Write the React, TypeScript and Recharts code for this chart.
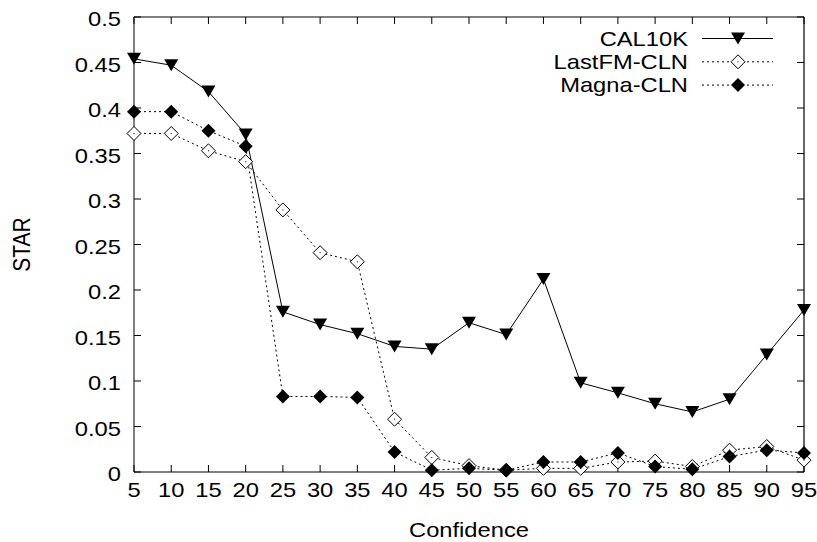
import React from 'react';
import { LineChart, Line, XAxis, YAxis, ReferenceLine } from 'recharts';

const confidence = [5, 10, 15, 20, 25, 30, 35, 40, 45, 50, 55, 60, 65, 70, 75, 80, 85, 90, 95];
const cal10k = [0.454, 0.447, 0.418, 0.371, 0.176, 0.162, 0.152, 0.138, 0.135, 0.164, 0.151, 0.212, 0.098, 0.087, 0.075, 0.066, 0.08, 0.129, 0.178];
const lastfm = [0.372, 0.372, 0.353, 0.341, 0.288, 0.241, 0.231, 0.058, 0.016, 0.007, 0.002, 0.004, 0.004, 0.011, 0.012, 0.006, 0.024, 0.028, 0.013];
const magna = [0.396, 0.396, 0.375, 0.358, 0.083, 0.083, 0.082, 0.022, 0.002, 0.004, 0.002, 0.011, 0.011, 0.021, 0.006, 0.003, 0.017, 0.024, 0.021];
const yTicks = [0, 0.05, 0.1, 0.15, 0.2, 0.25, 0.3, 0.35, 0.4, 0.45, 0.5];

const data = confidence.map((c, i) => ({ conf: c, cal: cal10k[i], lastfm: lastfm[i], magna: magna[i] }));

const font = '"Liberation Sans", Arial, sans-serif';
const SX = 1.13; // glyphs in the source are a bit wide
const fmtY = (v: number) => String(+v.toFixed(2));

// inward tick length in data units (about 7px)
const xTickLen = 0.94;
const yTickLen = 0.0077;

const SText = ({ x, y, anchor = 'middle', rotate = false, dy = '0.35em', children }: any) => (
  <text
    transform={`translate(${x},${y}) scale(${SX},1)${rotate ? ' rotate(-90)' : ''}`}
    dy={dy}
    textAnchor={anchor}
    fontSize={21}
    fontFamily={font}
    fill="#000"
  >
    {children}
  </text>
);

const XTitle = ({ viewBox }: any) => (
  <SText x={viewBox.x + viewBox.width / 2} y={viewBox.y + viewBox.height - 12}>Confidence</SText>
);
const YTitle = ({ viewBox }: any) => (
  <SText x={viewBox.x + 22} y={viewBox.y + viewBox.height / 2} rotate>STAR</SText>
);

const Triangle = ({ cx, cy }: any) => (
  <polygon points={`${cx - 7},${cy - 6} ${cx + 7},${cy - 6} ${cx},${cy + 6}`} fill="#000" />
);

const OpenDiamond = ({ cx, cy }: any) => (
  <g>
    <polygon points={`${cx},${cy - 7} ${cx + 7},${cy} ${cx},${cy + 7} ${cx - 7},${cy}`} fill="#fff" stroke="#000" strokeWidth={1} />
    <rect x={cx - 0.5} y={cy - 0.5} width={1} height={1} fill="#000" />
  </g>
);

const FilledDiamond = ({ cx, cy }: any) => (
  <polygon points={`${cx},${cy - 7} ${cx + 7},${cy} ${cx},${cy + 7} ${cx - 7},${cy}`} fill="#000" />
);

const legendRows = [
  { name: 'CAL10K', dash: undefined, Marker: Triangle },
  { name: 'LastFM-CLN', dash: '2 3', Marker: OpenDiamond },
  { name: 'Magna-CLN', dash: '2 3', Marker: FilledDiamond },
];

export default function App() {
  return (
    <div style={{ position: 'absolute', left: 0, top: 0, width: 817, height: 542 }}>
      <LineChart width={817} height={542} data={data} margin={{ top: 17, right: 13, left: 0, bottom: 0 }}>
        <XAxis
          dataKey="conf"
          type="number"
          domain={[5, 95]}
          ticks={confidence}
          interval={0}
          tickLine={false}
          tickSize={0}
          tickMargin={18}
          height={70}
          stroke="#000"
          tick={(p: any) => <SText x={p.x} y={p.y}>{p.payload.value}</SText>}
          label={<XTitle />}
        />
        <YAxis
          type="number"
          domain={[0, 0.5]}
          ticks={yTicks}
          interval={0}
          tickLine={false}
          tickSize={0}
          tickMargin={13}
          width={134}
          stroke="#000"
          tick={(p: any) => <SText x={p.x} y={p.y} anchor="end" dy="0.45em">{fmtY(p.payload.value)}</SText>}
          label={<YTitle />}
        />
        <ReferenceLine y={0.5} stroke="#000" strokeWidth={1.2} ifOverflow="extendDomain" />
        <ReferenceLine x={95} stroke="#000" strokeWidth={1.2} ifOverflow="extendDomain" />
        {confidence.map((c) => (
          <ReferenceLine key={`b${c}`} segment={[{ x: c, y: 0 }, { x: c, y: yTickLen }]} stroke="#000" ifOverflow="extendDomain" />
        ))}
        {confidence.map((c) => (
          <ReferenceLine key={`t${c}`} segment={[{ x: c, y: 0.5 }, { x: c, y: 0.5 - yTickLen }]} stroke="#000" ifOverflow="extendDomain" />
        ))}
        {yTicks.map((v) => (
          <ReferenceLine key={`l${v}`} segment={[{ x: 5, y: v }, { x: 5 + xTickLen, y: v }]} stroke="#000" ifOverflow="extendDomain" />
        ))}
        {yTicks.map((v) => (
          <ReferenceLine key={`r${v}`} segment={[{ x: 95, y: v }, { x: 95 - xTickLen, y: v }]} stroke="#000" ifOverflow="extendDomain" />
        ))}
        <Line dataKey="cal" stroke="#000" strokeWidth={1} dot={<Triangle />} isAnimationActive={false} />
        <Line dataKey="lastfm" stroke="#000" strokeWidth={1} strokeDasharray="2 3" dot={<OpenDiamond />} isAnimationActive={false} />
        <Line dataKey="magna" stroke="#000" strokeWidth={1} strokeDasharray="2 3" dot={<FilledDiamond />} isAnimationActive={false} />
      </LineChart>
      <svg width={817} height={110} style={{ position: 'absolute', left: 0, top: 0, pointerEvents: 'none' }}>
        {legendRows.map((r, i) => {
          const y = 38.5 + i * 23.3;
          const M = r.Marker;
          return (
            <g key={r.name}>
              <SText x={688} y={y} anchor="end">{r.name}</SText>
              <line x1={702} x2={773} y1={y} y2={y} stroke="#000" strokeWidth={1} strokeDasharray={r.dash} />
              <M cx={738} cy={y} />
            </g>
          );
        })}
      </svg>
    </div>
  );
}
